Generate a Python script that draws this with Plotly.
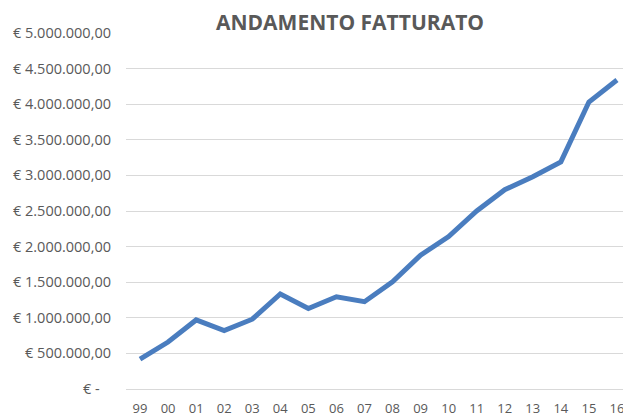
import plotly.graph_objects as go

years = ["99", "00", "01", "02", "03", "04", "05", "06", "07", "08",
         "09", "10", "11", "12", "13", "14", "15", "16"]
fatturato = [420000, 660000, 970000, 820000, 980000, 1335000, 1130000, 1296000,
             1226000, 1507000, 1880000, 2140000, 2500000, 2800000, 2980000,
             3190000, 4030000, 4340000]

tick_vals = [0, 500000, 1000000, 1500000, 2000000, 2500000, 3000000, 3500000,
             4000000, 4500000, 5000000]
tick_text = ["€ -\u00a0\u00a0\u00a0", "€ 500.000,00", "€ 1.000.000,00",
             "€ 1.500.000,00", "€ 2.000.000,00", "€ 2.500.000,00",
             "€ 3.000.000,00", "€ 3.500.000,00", "€ 4.000.000,00",
             "€ 4.500.000,00", "€ 5.000.000,00"]

fig = go.Figure()
fig.add_trace(go.Scatter(
    x=years, y=fatturato, mode="lines",
    line=dict(color="#4a7dbf", width=5, shape="linear"),
    hoverinfo="x+y",
))

# page body has an 8px margin, so the figure is sized/offset to compensate
fig.update_layout(
    width=623, height=408,
    margin=dict(l=118, r=0, t=25, b=27, autoexpand=False),
    paper_bgcolor="white", plot_bgcolor="white",
    showlegend=False,
    title=dict(text="<b>ANDAMENTO FATTURATO</b>", x=0.549, xanchor="center",
               y=0.9645, yanchor="middle",
               font=dict(family="Open Sans, Liberation Sans, sans-serif",
                         size=21, color="#595959")),
    font=dict(family="Open Sans, Liberation Sans, sans-serif", size=13,
              color="#595959"),
    xaxis=dict(type="category", range=[-0.5, 17.5], showgrid=False,
               showline=False, ticks="", automargin=False,
               ticklabelstandoff=10,
               tickfont=dict(size=13, color="#595959")),
    yaxis=dict(range=[0, 5000000], tickvals=tick_vals, ticktext=tick_text,
               showgrid=True, gridcolor="#d9d9d9", gridwidth=1,
               zeroline=True, zerolinecolor="#d9d9d9", zerolinewidth=1,
               showline=False, ticks="", ticklabelstandoff=14, automargin=False,
               tickfont=dict(size=14.5, color="#595959")),
)

fig.write_html("out.html")
